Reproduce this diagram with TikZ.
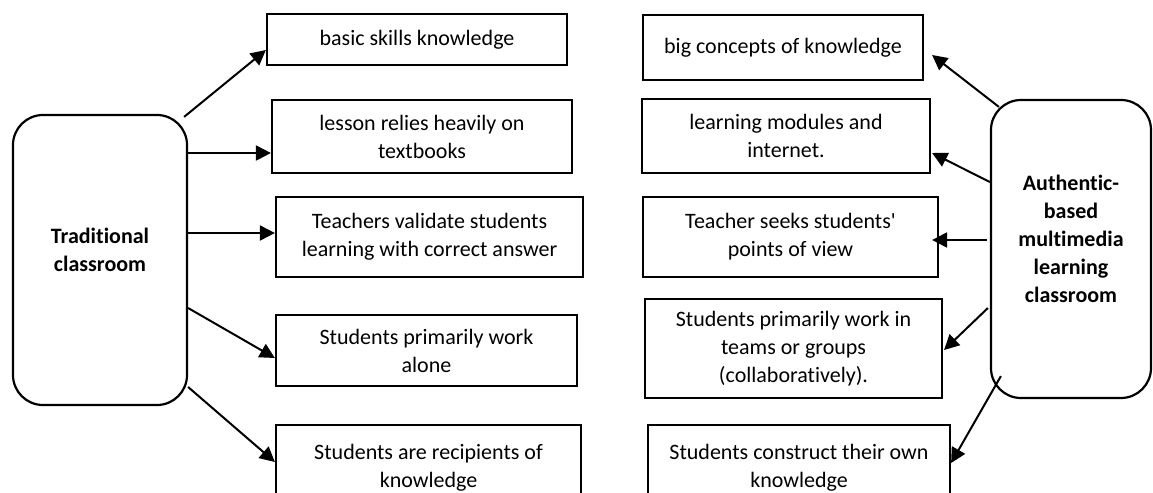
\documentclass[tikz,border=0pt]{standalone}
\usepackage{fontspec}
\setmainfont{Carlito}[Ligatures=NoCommon]
\usetikzlibrary{arrows.meta}
\begin{document}
\begin{tikzpicture}[x=0.5pt,y=-0.5pt,
  item/.style={draw, line width=1.1pt, align=center, inner sep=0pt, font=\fontsize{11}{14}\selectfont},
  hub/.style={draw, line width=1.1pt, rounded corners=15pt, align=center, inner sep=0pt, font=\fontsize{11}{14}\selectfont\bfseries},
  arr/.style={line width=1pt, -{Triangle[length=7.5pt,width=7.5pt]}}]
\useasboundingbox (0,0) rectangle (1153,493);
\clip (0,0) rectangle (1153,493);
% the two classrooms
\node[hub, minimum width=87pt, minimum height=145pt] (trad) at (100,260){Traditional\\classroom\\[-4pt]\mbox{}};
\node[hub, minimum width=80pt, minimum height=149pt] (auth) at (1071,249){Authentic-\\based\\multimedia\\learning\\classroom\\[-4pt]\mbox{}};
% left column
\node[item, minimum width=150pt, minimum height=25.5pt] (b1) at (417,39.5){basic skills knowledge};
\node[item, minimum width=150pt, minimum height=36.5pt] (b2) at (422,136.5){lesson relies heavily on\\textbooks};
\node[item, minimum width=153.5pt, minimum height=40pt] (b3) at (429.5,237){Teachers validate students\\learning with correct answer};
\node[item, minimum width=150.5pt, minimum height=35.5pt] (b4) at (426.5,350.5){Students primarily work\\alone};
\node[item, minimum width=152.5pt, minimum height=42.5pt] (b5) at (428.5,467.5){Students are recipients of\\knowledge};
% right column
\node[item, minimum width=140pt, minimum height=32.5pt] (r1) at (783,47.5){big concepts of knowledge};
\node[item, minimum width=144pt, minimum height=37pt] (r2) at (786,136){learning modules and\\internet.};
\node[item, minimum width=147.5pt, minimum height=40pt] (r3) at (790.5,237){Teacher seeks students\textquotesingle\\points of view};
\node[item, minimum width=148.5pt, minimum height=49.5pt] (r4) at (793.5,348.5){Students primarily work in\\teams or groups\\(collaboratively).};
\node[item, minimum width=151pt, minimum height=42.5pt] (r5) at (799,467.5){Students construct their own\\knowledge};
% arrows
\draw[arr] ([shift={(-4,3)}]trad.north east) -- ([shift={(0,10.5)}]b1.west);
\draw[arr] ([shift={(0,-107)}]trad.east) -- ([shift={(0,16.5)}]b2.west);
\draw[arr] ([shift={(0,-27)}]trad.east) -- ([shift={(0,-4)}]b3.west);
\draw[arr] ([shift={(0,48)}]trad.east) -- ([shift={(0,7.5)}]b4.west);
\draw[arr] ([shift={(0,127)}]trad.east) -- ([shift={(0,-5.5)}]b5.west);
\draw[arr] ([shift={(9,8)}]auth.north west) -- ([shift={(8,7.5)}]r1.east);
\draw[arr] ([shift={(0,-67)}]auth.west) -- ([shift={(1,17)}]r2.east);
\draw[arr] ([shift={(-3,-9)}]auth.west) -- ([shift={(-7,3)}]r3.east);
\draw[arr] ([shift={(-2,59)}]auth.west) -- ([shift={(1,1.5)}]r4.east);
\draw[arr] ([shift={(11,-23)}]auth.south west) -- ([shift={(0,-4.5)}]r5.east);
\end{tikzpicture}
\end{document}
